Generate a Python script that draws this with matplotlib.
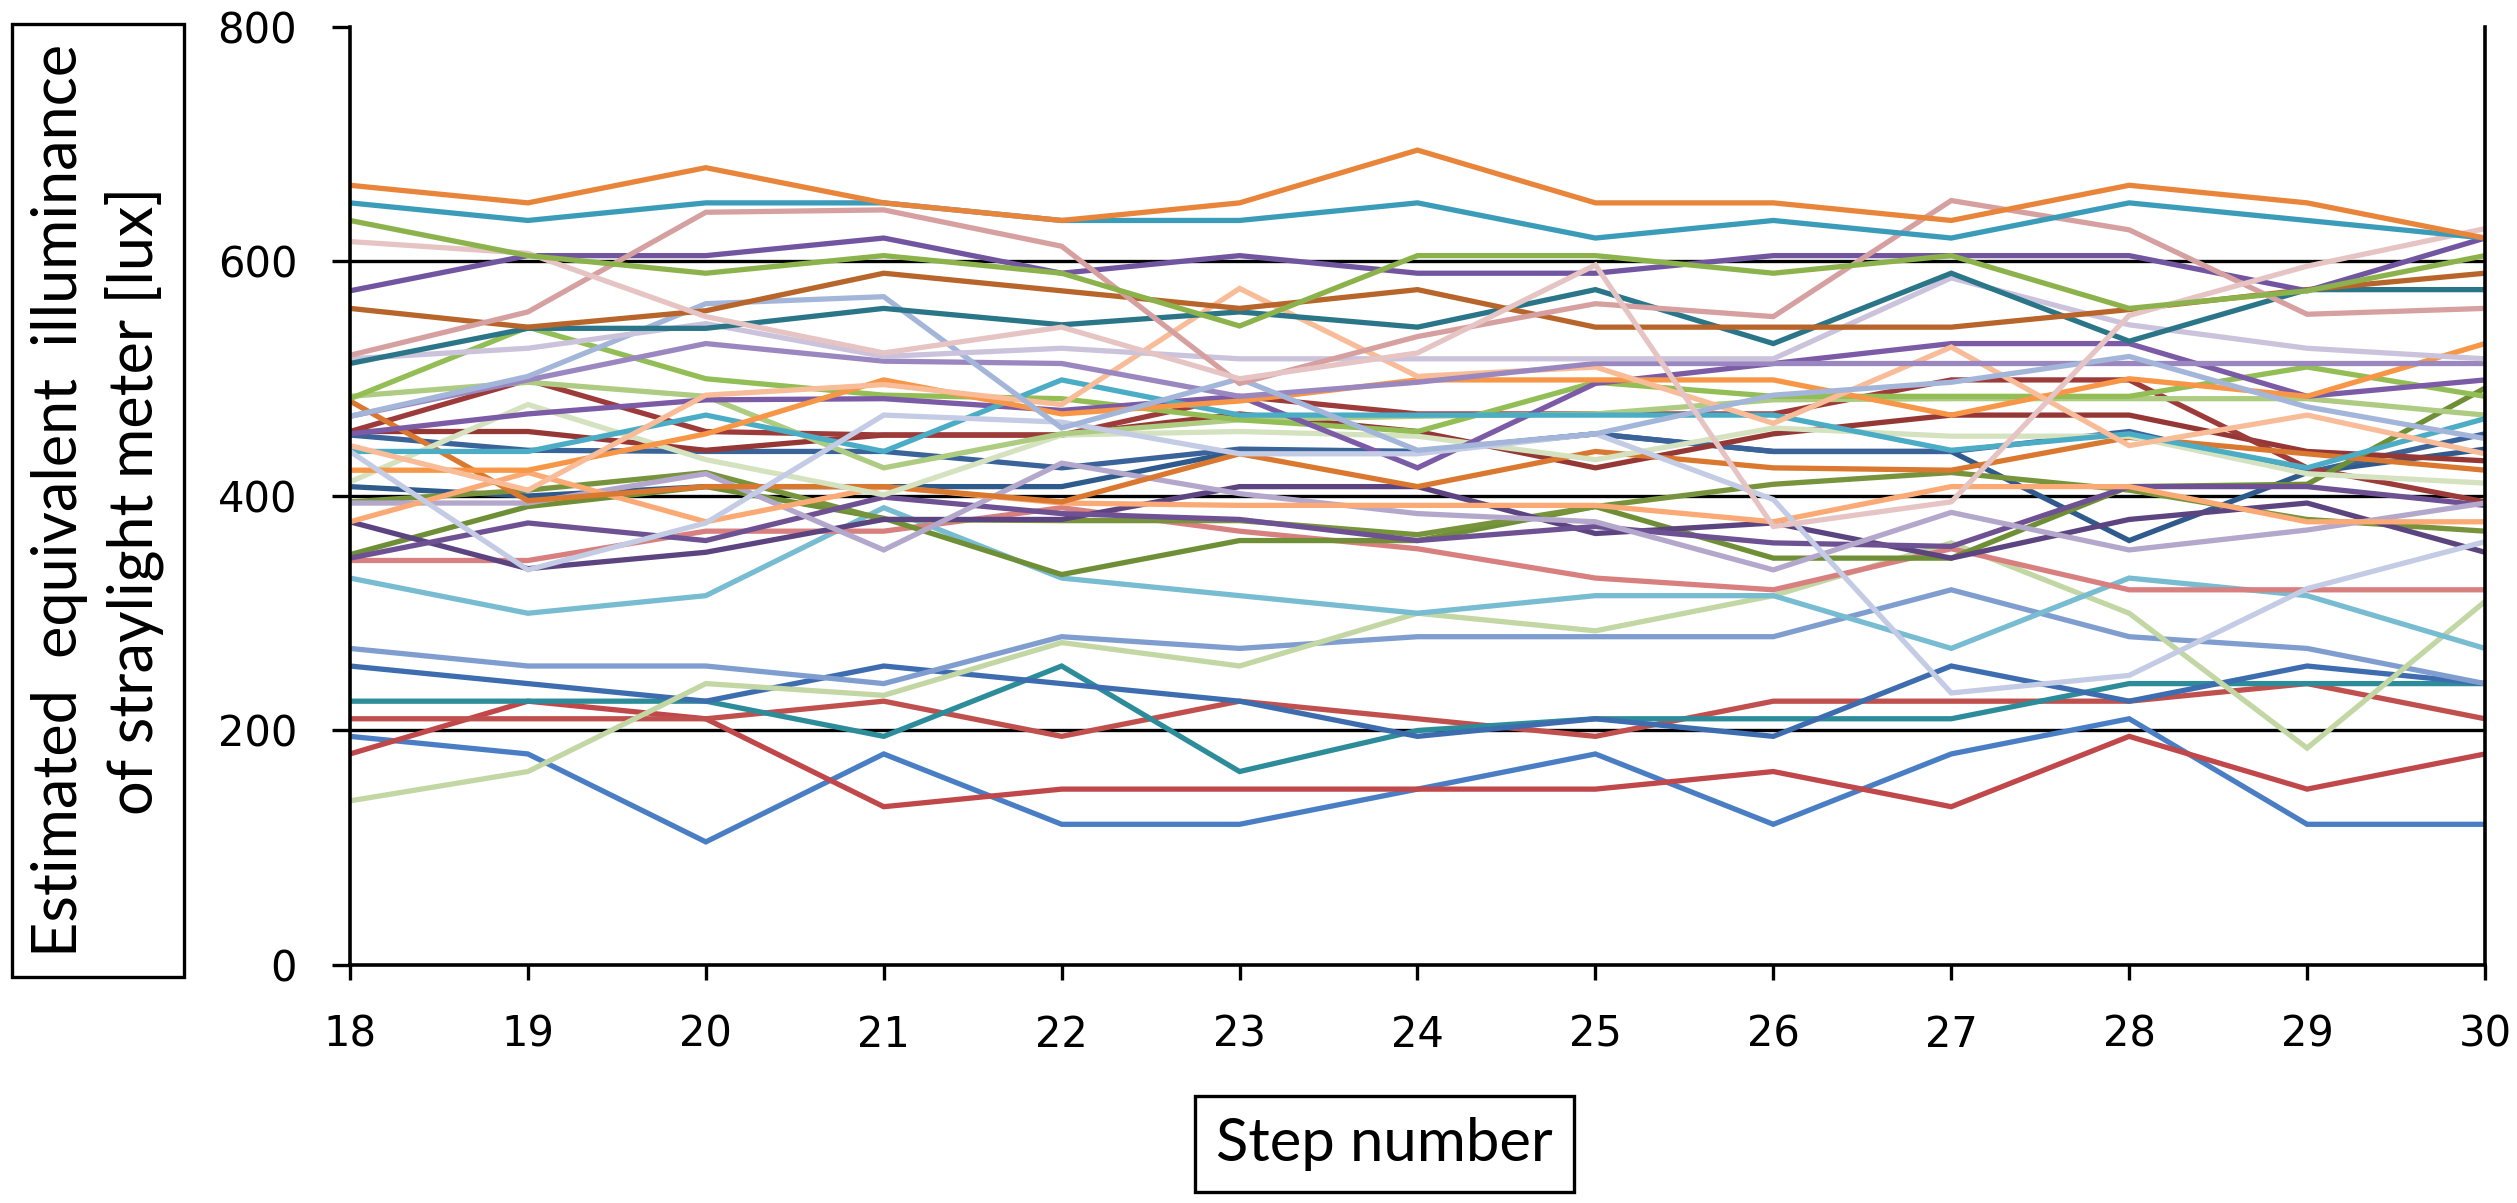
import matplotlib
matplotlib.use("Agg")
import matplotlib.pyplot as plt

# Step numbers on the x axis
steps = list(range(18, 31))

# Estimated equivalent illuminance [lux], one list per sensor curve
orange_top = [665, 650, 680, 650, 635, 650, 695, 650, 650, 635, 665, 650, 620]
teal_top = [650, 635, 650, 650, 635, 635, 650, 620, 635, 620, 650, 635, 620]
green_top = [635, 605, 590, 605, 590, 545, 605, 605, 590, 605, 560, 575, 605]
pale_pink = [617, 607, 553, 522, 544, 500, 522, 597, 374, 395, 554, 596, 628]
dusty_pink = [520, 557, 642, 644, 613, 496, 536, 564, 553, 652, 627, 555, 560]
purple_top = [575, 605, 605, 620, 590, 605, 590, 590, 605, 605, 605, 575, 620]
brown = [560, 544, 558, 590, 575, 560, 576, 544, 544, 544, 559, 576, 590]
dark_teal = [513, 543, 543, 560, 546, 557, 544, 576, 530, 590, 532, 576, 576]
lavender = [517, 526, 547, 519, 526, 517, 517, 517, 517, 586, 546, 526, 517]
steel_blue = [468, 502, 564, 570, 458, 500, 439, 453, 486, 497, 519, 476, 449]
lilac_purple = [468, 499, 530, 515, 513, 485, 497, 513, 513, 513, 513, 513, 513]
green_mid = [483, 544, 500, 486, 483, 465, 455, 497, 485, 485, 485, 510, 485]
light_green = [485, 497, 485, 424, 453, 465, 468, 470, 482, 483, 483, 483, 469]
pale_green = [412, 478, 431, 401, 452, 455, 451, 431, 458, 451, 451, 419, 411]
purple_mid = [453, 470, 482, 483, 473, 485, 424, 496, 513, 530, 530, 485, 499]
orange_mid = [422, 422, 453, 499, 470, 481, 499, 499, 499, 469, 500, 485, 530]
peach = [443, 405, 486, 495, 478, 577, 502, 510, 462, 527, 443, 469, 436]
cyan = [438, 438, 469, 438, 499, 469, 469, 469, 469, 439, 453, 424, 466]
pale_blue = [438, 337, 377, 469, 463, 436, 436, 453, 397, 232, 247, 321, 361]
dark_purple = [378, 338, 352, 380, 380, 408, 408, 368, 377, 347, 380, 394, 352]
purple_low = [347, 377, 362, 399, 385, 380, 362, 374, 360, 357, 408, 408, 392]
olive = [350, 391, 408, 381, 333, 362, 362, 391, 347, 347, 408, 410, 492]
olive_2 = [395, 405, 420, 380, 379, 379, 367, 391, 410, 420, 405, 380, 370]
lilac = [394, 394, 419, 354, 428, 402, 385, 378, 337, 386, 354, 371, 394]
peach_orange = [378, 420, 378, 408, 394, 392, 392, 392, 378, 408, 408, 378, 378]
orange_brown = [481, 396, 408, 408, 395, 436, 408, 438, 424, 422, 450, 436, 422]
navy = [408, 400, 408, 408, 408, 438, 438, 453, 438, 438, 362, 420, 440]
navy_2 = [452, 439, 438, 438, 424, 440, 438, 453, 438, 438, 455, 420, 453]
dark_red = [455, 455, 439, 452, 452, 470, 455, 424, 453, 469, 469, 438, 430]
dark_red_2 = [455, 499, 455, 452, 452, 485, 470, 470, 470, 499, 499, 424, 395]
salmon = [345, 345, 370, 370, 390, 370, 355, 330, 320, 355, 320, 320, 320]
sky = [330, 300, 315, 390, 330, 315, 300, 315, 315, 270, 330, 315, 270]
light_green_low = [140, 165, 240, 230, 275, 255, 300, 285, 315, 360, 300, 185, 310]
blue_light = [270, 255, 255, 240, 280, 270, 280, 280, 280, 320, 280, 270, 240]
blue_mid = [255, 240, 225, 255, 240, 225, 195, 210, 195, 255, 225, 255, 240]
teal_low = [225, 225, 225, 195, 255, 165, 200, 210, 210, 210, 240, 240, 240]
red_mid = [210, 210, 210, 225, 195, 225, 210, 195, 225, 225, 225, 240, 210]
red_low = [180, 225, 210, 135, 150, 150, 150, 150, 165, 135, 195, 150, 180]
blue_low = [195, 180, 105, 180, 120, 120, 150, 180, 120, 180, 210, 120, 120]

series = [
    (blue_low, "#4A7EC4"), (red_low, "#C0474A"), (red_mid, "#C0504D"),
    (teal_low, "#2D8C9A"), (blue_mid, "#3D6DAF"), (blue_light, "#7F9ECF"),
    (light_green_low, "#C2D7A4"), (sky, "#78BCD2"), (salmon, "#D88080"),
    (navy, "#2E5A8C"), (navy_2, "#3A639A"), (dark_red, "#953735"),
    (dark_red_2, "#9C3B3A"), (olive, "#6F8F36"), (olive_2, "#77933C"),
    (dark_purple, "#5B4480"), (purple_low, "#6E5193"), (lilac, "#B4A7CC"),
    (peach_orange, "#FBAA76"), (orange_brown, "#D9782E"), (pale_green, "#D4E2BF"),
    (light_green, "#AECB82"), (green_mid, "#93BE55"), (purple_mid, "#7B5AA6"),
    (cyan, "#4BACC6"), (orange_mid, "#F79646"), (peach, "#F9BC98"),
    (pale_blue, "#C3CCE4"), (lilac_purple, "#9B87BF"), (steel_blue, "#A3B6DA"),
    (lavender, "#CBC3DC"), (dark_teal, "#2A7688"), (brown, "#B7652A"),
    (purple_top, "#7255A0"), (dusty_pink, "#D7A0A0"), (pale_pink, "#E6C4C4"),
    (green_top, "#8CB24B"), (teal_top, "#3B9CBA"), (orange_top, "#E8853A"),
]

fig = plt.figure(figsize=(25.17, 12.03), dpi=100)
ax = fig.add_axes([0.13905, 0.19784, 0.84824, 0.77972])

for vals, col in series:
    ax.plot(steps, vals, color=col, lw=3.8, solid_joinstyle="miter", zorder=2)

for g in [200, 400, 600]:
    ax.axhline(g, color="black", lw=2.4, zorder=1)

ax.set_xlim(18, 30)
ax.set_ylim(0, 800)
ax.set_xticks(steps)
ax.set_yticks([0, 200, 400, 600, 800])
ax.spines["top"].set_visible(False)
for s in ["left", "right", "bottom"]:
    ax.spines[s].set_linewidth(2.6)
    ax.spines[s].set_color("black")
ax.tick_params(axis="y", direction="out", length=13, width=2.4, pad=25, labelsize=30)
ax.tick_params(axis="x", direction="out", length=11, width=2.4, pad=24, labelsize=30)

fig.text(0.0387, 0.584, "Estimated  equivalent  illuminance\nof straylight meter [lux]",
         rotation=90, ha="center", va="center", family="Lato", fontsize=44,
         linespacing=1.35, multialignment="center",
         bbox=dict(boxstyle="square,pad=0.32", fc="white", ec="black", lw=2.4))
fig.text(0.55, 0.049, "Step number", ha="center", va="center", family="Lato",
         fontsize=43,
         bbox=dict(boxstyle="square,pad=0.35", fc="white", ec="black", lw=2.4))

fig.savefig("out.png", dpi=100)
